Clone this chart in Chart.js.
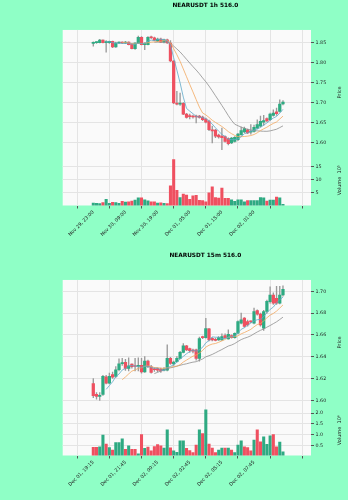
<!DOCTYPE html>
<html>
<head>
<meta charset="utf-8">
<script src="https://cdn.jsdelivr.net/npm/chart.js@4.4.0/dist/chart.umd.min.js"></script>
<style>
  html, body { margin: 0; padding: 0; background: #8fffc6; }
  #wrap { position: relative; width: 348px; height: 500px; }
  canvas { position: absolute; left: 0; }
</style>
</head>
<body>
<div id="wrap">
  <canvas id="chart1h" width="348" height="250" style="top:0"></canvas>
  <canvas id="chart15m" width="348" height="250" style="top:250px"></canvas>
</div>
<script>
// ── data: NEARUSDT 1h (60 candles, volume in units of 10^5) ──
const H1_TICK_LABELS = ['Nov 29, 23:00', 'Nov 30, 09:00', 'Nov 30, 19:00', 'Dec 01, 05:00', 'Dec 01, 15:00', 'Dec 02, 01:00'];
const H1_OPEN  = [1.849,1.851,1.851,1.857,1.851,1.851,1.854,1.840,1.850,1.851,1.850,1.852,1.847,1.836,1.850,1.864,1.846,1.846,1.864,1.863,1.855,1.860,1.852,1.858,1.850,1.805,1.700,1.697,1.699,1.672,1.668,1.667,1.667,1.667,1.665,1.660,1.655,1.633,1.632,1.620,1.617,1.616,1.611,1.600,1.604,1.608,1.621,1.6275,1.633,1.627,1.629,1.637,1.642,1.652,1.661,1.658,1.669,1.678,1.679,1.6975];
const H1_HIGH  = [1.853,1.853,1.859,1.858,1.856,1.855,1.855,1.852,1.853,1.853,1.854,1.853,1.849,1.851,1.867,1.866,1.851,1.866,1.867,1.865,1.862,1.862,1.860,1.860,1.856,1.806,1.729,1.725,1.701,1.674,1.672,1.670,1.670,1.669,1.667,1.662,1.657,1.642,1.634,1.622,1.637,1.618,1.613,1.614,1.616,1.624,1.640,1.640,1.635,1.646,1.645,1.658,1.667,1.669,1.663,1.675,1.683,1.6875,1.708,1.706];
const H1_LOW   = [1.842,1.849,1.850,1.850,1.827,1.849,1.838,1.839,1.848,1.848,1.848,1.845,1.835,1.834,1.848,1.845,1.833,1.845,1.861,1.856,1.853,1.851,1.850,1.849,1.803,1.698,1.695,1.694,1.671,1.662,1.660,1.662,1.650,1.662,1.656,1.650,1.631,1.600,1.613,1.612,1.583,1.602,1.595,1.598,1.602,1.606,1.619,1.626,1.623,1.622,1.627,1.635,1.640,1.644,1.653,1.656,1.667,1.669,1.677,1.695];
const H1_CLOSE = [1.851,1.852,1.857,1.851,1.852,1.854,1.840,1.850,1.851,1.850,1.852,1.846,1.836,1.850,1.864,1.846,1.849,1.864,1.863,1.857,1.860,1.852,1.858,1.850,1.805,1.700,1.697,1.699,1.672,1.664,1.666,1.665,1.665,1.664,1.658,1.652,1.633,1.630,1.617,1.615,1.613,1.604,1.598,1.6125,1.614,1.6225,1.631,1.636,1.625,1.630,1.639,1.646,1.654,1.656,1.655,1.6725,1.675,1.673,1.6975,1.7025];
const H1_VOLUME = [1.1,1.0,0.9,1.3,2.6,1.0,1.4,1.3,1.0,1.8,1.5,1.6,1.9,2.3,3.1,3.1,2.4,2.0,1.6,1.6,1.1,1.2,1.0,0.9,7.7,17.7,6.0,3.2,4.6,4.2,2.6,3.9,4.1,2.2,2.1,1.6,5.0,7.3,3.2,3.0,6.9,2.9,2.9,2.4,1.8,2.4,2.4,1.6,2.1,2.1,2.1,2.1,3.2,3.1,1.9,2.3,2.3,3.4,3.1,0.6];
const H1_MA5  = [null,null,null,null,1.8526,1.8532,1.8508,1.8494,1.8494,1.849,1.8486,1.8498,1.847,1.8468,1.8496,1.8484,1.849,1.8546,1.8572,1.8558,1.8586,1.8592,1.858,1.8554,1.845,1.813,1.782,1.7502,1.7146,1.6864,1.6796,1.6732,1.6664,1.6648,1.6636,1.6608,1.6544,1.6474,1.638,1.6294,1.6216,1.6158,1.6094,1.6085,1.6083,1.6102,1.6156,1.6232,1.6257,1.6289,1.6322,1.6352,1.6388,1.645,1.65,1.6567,1.6625,1.6663,1.6746,1.6841];
const H1_MA10 = [null,null,null,null,null,null,null,null,null,1.8508,1.8509,1.8503,1.8482,1.8481,1.8493,1.8485,1.8494,1.8508,1.852,1.8527,1.8535,1.8541,1.8563,1.8563,1.8504,1.8358,1.8206,1.8041,1.785,1.7657,1.7463,1.7276,1.7083,1.6897,1.675,1.6702,1.6638,1.6569,1.6514,1.6465,1.6412,1.6351,1.6284,1.6233,1.6189,1.6159,1.6157,1.6163,1.6171,1.6186,1.6212,1.6254,1.631,1.6354,1.6395,1.6445,1.6489,1.6526,1.6598,1.6671];
const H1_MA20 = [null,null,null,null,null,null,null,null,null,null,null,null,null,null,null,null,null,null,null,1.8518,1.8522,1.8522,1.8523,1.8522,1.8499,1.8422,1.835,1.8275,1.8185,1.8092,1.7999,1.7909,1.7823,1.773,1.7627,1.753,1.7422,1.7305,1.7182,1.7061,1.6938,1.6814,1.6684,1.6565,1.6469,1.6431,1.6398,1.6366,1.6343,1.6326,1.6312,1.6303,1.6297,1.6293,1.6292,1.6302,1.6323,1.6344,1.6385,1.6428];
const H1_PRICE_TICKS = [1.60, 1.65, 1.70, 1.75, 1.80, 1.85];
const H1_VOLUME_TICKS = [5, 10, 15];

// ── data: NEARUSDT 15m (60 candles, volume in units of 10^6) ──
const M15_TICK_LABELS = ['Dec 01, 19:15', 'Dec 01, 21:45', 'Dec 02, 00:15', 'Dec 02, 02:45', 'Dec 02, 05:15', 'Dec 02, 07:45'];
const M15_OPEN  = [1.6154,1.6055,1.6035,1.6055,1.6215,1.6157,1.6237,1.6219,1.628,1.6335,1.6348,1.6292,1.6332,1.6315,1.631,1.632,1.626,1.636,1.6308,1.6286,1.629,1.6286,1.6277,1.6277,1.6385,1.6333,1.6354,1.6385,1.644,1.650,1.6475,1.646,1.6462,1.6385,1.6582,1.6575,1.6655,1.6569,1.6556,1.6554,1.6554,1.6594,1.6563,1.6594,1.6575,1.6615,1.6708,1.6754,1.6723,1.6726,1.6708,1.6822,1.6791,1.6662,1.6815,1.6904,1.6966,1.6935,1.689,1.6966];
const M15_HIGH  = [1.620,1.607,1.607,1.623,1.623,1.625,1.626,1.631,1.638,1.6385,1.6375,1.639,1.6335,1.6385,1.639,1.6385,1.640,1.637,1.632,1.630,1.6295,1.6295,1.630,1.6508,1.6395,1.636,1.640,1.645,1.652,1.6505,1.648,1.647,1.647,1.658,1.659,1.6751,1.666,1.6575,1.657,1.6585,1.661,1.661,1.6646,1.660,1.662,1.673,1.680,1.676,1.6735,1.673,1.6845,1.683,1.680,1.6825,1.692,1.704,1.6985,1.7045,1.7045,1.705];
const M15_LOW   = [1.6025,1.601,1.600,1.6045,1.615,1.615,1.620,1.621,1.627,1.632,1.6275,1.627,1.6295,1.627,1.627,1.625,1.6255,1.630,1.625,1.6265,1.626,1.6255,1.627,1.627,1.633,1.632,1.635,1.638,1.6435,1.6455,1.644,1.6435,1.6369,1.636,1.6565,1.657,1.6545,1.6545,1.6545,1.655,1.655,1.657,1.656,1.657,1.657,1.661,1.670,1.667,1.668,1.671,1.670,1.678,1.668,1.664,1.680,1.689,1.688,1.688,1.6885,1.6955];
const M15_CLOSE = [1.6043,1.6035,1.6045,1.6219,1.6157,1.6219,1.6212,1.628,1.6335,1.6345,1.6292,1.6317,1.6308,1.631,1.632,1.626,1.636,1.6308,1.6255,1.628,1.6277,1.627,1.6286,1.6385,1.6338,1.635,1.6385,1.644,1.650,1.6462,1.6455,1.645,1.6385,1.6566,1.6575,1.6659,1.6555,1.6554,1.655,1.6575,1.6585,1.6575,1.6606,1.6575,1.6615,1.6723,1.6738,1.6677,1.6692,1.672,1.6815,1.6791,1.6692,1.6815,1.6908,1.6966,1.6892,1.689,1.6966,1.7018];
const M15_VOLUME = [0.41,0.41,0.43,0.98,0.56,0.40,0.28,0.63,0.63,0.81,0.32,0.48,0.32,0.32,0.11,1.0,0.36,0.42,0.25,0.45,0.54,0.48,0.38,1.22,0.39,0.25,0.18,0.71,0.71,0.36,0.26,0.17,0.52,1.22,1.05,2.15,0.56,0.37,0.17,0.28,0.37,0.37,0.37,0.28,0.17,0.52,0.71,0.43,0.40,0.25,0.75,1.22,0.67,0.90,0.55,0.95,1.0,0.43,0.65,0.2];
const M15_MA5  = [null,null,null,null,1.6100,1.6135,1.6170,1.6217,1.6241,1.6278,1.6293,1.6314,1.6319,1.6314,1.6309,1.6303,1.6312,1.6312,1.6301,1.6293,1.6296,1.6278,1.6274,1.6300,1.6311,1.6326,1.6349,1.6380,1.6403,1.6427,1.6448,1.6461,1.6450,1.6464,1.6486,1.6527,1.6548,1.6582,1.6579,1.6579,1.6564,1.6568,1.6578,1.6583,1.6591,1.6619,1.6651,1.6666,1.6689,1.6710,1.6728,1.6739,1.6742,1.6767,1.6804,1.6834,1.6855,1.6894,1.6924,1.6946];
const M15_MA10 = [null,null,null,null,null,null,null,null,null,1.6189,1.6214,1.6242,1.6268,1.6278,1.6294,1.6298,1.6313,1.6316,1.6308,1.6301,1.6300,1.6295,1.6293,1.6300,1.6302,1.6311,1.6313,1.6327,1.6351,1.6369,1.6387,1.6405,1.6415,1.6433,1.6457,1.6488,1.6505,1.6516,1.6521,1.6532,1.6545,1.6558,1.6580,1.6581,1.6585,1.6591,1.6610,1.6622,1.6636,1.6651,1.6674,1.6695,1.6704,1.6728,1.6757,1.6781,1.6797,1.6818,1.6846,1.6875];
const M15_MA20 = [null,null,null,null,null,null,null,null,null,null,null,null,null,null,null,null,null,null,null,1.6245,1.6257,1.6268,1.6281,1.6289,1.6298,1.6304,1.6313,1.6321,1.6329,1.6335,1.6343,1.6350,1.6354,1.6367,1.6379,1.6399,1.6409,1.6421,1.6436,1.6451,1.6466,1.6482,1.6498,1.6507,1.6521,1.6540,1.6557,1.6569,1.6579,1.6592,1.6610,1.6627,1.6642,1.6654,1.6671,1.6686,1.6703,1.6720,1.6741,1.6763];
const M15_PRICE_TICKS = [1.60, 1.62, 1.64, 1.66, 1.68, 1.70];
const M15_VOLUME_TICKS = [0.5, 1.0, 1.5, 2.0];

// ── styling ──
const FONT_FAMILY = "'DejaVu Sans', sans-serif";
const UP_COLOR    = '#2eaa82';
const DOWN_COLOR  = '#ef5060';
const WICK_COLOR  = '#9a9a9a';
const MA_COLORS   = ['#5fa8c8', '#f3a860', '#8e8e8e'];
const GRID_COLOR  = '#e4e4e4';
const FACE_COLOR  = '#fafafa';
const TEXT_COLOR  = '#222222';

const plotBackground = {
  id: 'plotBackground',
  beforeDraw(chart) {
    const { ctx, chartArea: { left, top, width, height } } = chart;
    ctx.save();
    ctx.fillStyle = FACE_COLOR;
    ctx.fillRect(left, top, width, height);
    ctx.restore();
  }
};

// matplotlib-style right-hand axis labels, reading bottom to top
const sideTitles = {
  id: 'sideTitles',
  afterDraw(chart, args, opts) {
    const { ctx } = chart;
    ctx.save();
    ctx.fillStyle = TEXT_COLOR;
    ctx.font = `5px ${FONT_FAMILY}`;
    ctx.textAlign = 'center';
    ctx.textBaseline = 'middle';
    opts.items.forEach(({ axis, text }) => {
      const s = chart.scales[axis];
      ctx.save();
      ctx.translate(opts.x, (s.top + s.bottom) / 2);
      ctx.rotate(-Math.PI / 2);
      ctx.fillText(text, 0, 0);
      ctx.restore();
    });
    ctx.restore();
  }
};

const fixedTicks = values => scale => { scale.ticks = values.map(v => ({ value: v })); };
const tickFont = { family: FONT_FAMILY, size: 4.8 };

function buildCandleChart(id, d) {
  const ctx = document.getElementById(id);
  const up = d.close.map((c, i) => c >= d.open[i]);
  const barColors = up.map(u => (u ? UP_COLOR : DOWN_COLOR));
  const xTicks = d.tickLabels.map((_, k) => k * 10).concat([d.tickLabels.length * 10]);
  const maSet = (values, color) => ({
    type: 'line',
    data: values.map((v, i) => ({ x: i, y: v })),
    yAxisID: 'yP',
    borderColor: color,
    borderWidth: 0.8,
    pointRadius: 0,
    tension: 0,
    order: 0
  });

  return new Chart(ctx, {
    type: 'bar',
    data: {
      datasets: [
        maSet(d.ma5, MA_COLORS[0]),
        maSet(d.ma10, MA_COLORS[1]),
        maSet(d.ma20, MA_COLORS[2]),
        {
          data: d.close.map((c, i) => ({ x: i, y: [d.open[i], c] })),
          yAxisID: 'yP',
          backgroundColor: barColors,
          barThickness: 2.6,
          minBarLength: 1,
          grouped: false,
          order: 1
        },
        {
          data: d.low.map((l, i) => ({ x: i, y: [l, d.high[i]] })),
          yAxisID: 'yP',
          backgroundColor: WICK_COLOR,
          barThickness: 0.7,
          grouped: false,
          order: 2
        },
        {
          data: d.volume.map((v, i) => ({ x: i, y: v })),
          yAxisID: 'yV',
          backgroundColor: barColors,
          barThickness: 2.4,
          grouped: false,
          order: 1
        }
      ]
    },
    options: {
      responsive: false,
      animation: false,
      events: [],
      layout: { padding: { left: 62.7, right: 0, top: 0, bottom: 0 } },
      plugins: {
        legend: { display: false },
        tooltip: { enabled: false },
        title: {
          display: true,
          text: d.title,
          color: '#000',
          font: { family: FONT_FAMILY, size: 5.8, weight: 'bold', lineHeight: 1.2 },
          padding: { top: 1.6, bottom: 21.4 }
        },
        sideTitles: {
          x: 340,
          items: [
            { axis: 'yP', text: 'Price' },
            { axis: 'yV', text: d.volTitle }
          ]
        }
      },
      scales: {
        x: {
          type: 'linear',
          min: -4.0,
          max: 62.2,
          afterBuildTicks: fixedTicks(xTicks),
          afterFit: s => { s.height = 44.5; s.paddingLeft = 0; s.paddingRight = 0; },
          ticks: {
            autoSkip: false,
            minRotation: 45,
            maxRotation: 45,
            labelOffset: 0,
            padding: 1,
            font: tickFont,
            color: TEXT_COLOR,
            callback: v => d.tickLabels[v / 10] || ''
          },
          grid: { color: GRID_COLOR, tickLength: 3, tickColor: '#555' },
          border: { display: false }
        },
        yP: {
          position: 'right',
          stack: 'panes',
          stackWeight: 125,
          min: d.priceMin,
          max: d.priceMax,
          afterBuildTicks: fixedTicks(d.priceTicks),
          afterFit: s => { s.width = 37; s.paddingTop = 0; s.paddingBottom = 0; },
          ticks: { font: tickFont, color: TEXT_COLOR, padding: 1.5, callback: v => v.toFixed(2) },
          grid: { color: GRID_COLOR, tickLength: 3, tickColor: '#555' },
          border: { display: false }
        },
        yV: {
          position: 'right',
          stack: 'panes',
          stackWeight: 50.5,
          min: d.volMin,
          max: d.volMax,
          afterBuildTicks: fixedTicks(d.volTicks),
          afterFit: s => { s.width = 37; s.paddingTop = 0; s.paddingBottom = 0; },
          ticks: { font: tickFont, color: TEXT_COLOR, padding: 1.5, callback: v => d.volFormat(v) },
          grid: { color: GRID_COLOR, tickLength: 3, tickColor: '#555' },
          border: { display: false }
        }
      }
    },
    plugins: [plotBackground, sideTitles]
  });
}

buildCandleChart('chart1h', {
  title: 'NEARUSDT 1h 516.0',
  tickLabels: H1_TICK_LABELS,
  open: H1_OPEN, high: H1_HIGH, low: H1_LOW, close: H1_CLOSE,
  volume: H1_VOLUME,
  ma5: H1_MA5, ma10: H1_MA10, ma20: H1_MA20,
  priceTicks: H1_PRICE_TICKS, priceMin: 1.57, priceMax: 1.8825,
  volTicks: H1_VOLUME_TICKS, volMin: 0.2, volMax: 19.5,
  volTitle: 'Volume  10\u2075',
  volFormat: v => String(v)
});

buildCandleChart('chart15m', {
  title: 'NEARUSDT 15m 516.0',
  tickLabels: M15_TICK_LABELS,
  open: M15_OPEN, high: M15_HIGH, low: M15_LOW, close: M15_CLOSE,
  volume: M15_VOLUME,
  ma5: M15_MA5, ma10: M15_MA10, ma20: M15_MA20,
  priceTicks: M15_PRICE_TICKS, priceMin: 1.5957, priceMax: 1.7104,
  volTicks: M15_VOLUME_TICKS, volMin: 0.03, volMax: 2.38,
  volTitle: 'Volume  10\u2076',
  volFormat: v => v.toFixed(1)
});
</script>
</body>
</html>
